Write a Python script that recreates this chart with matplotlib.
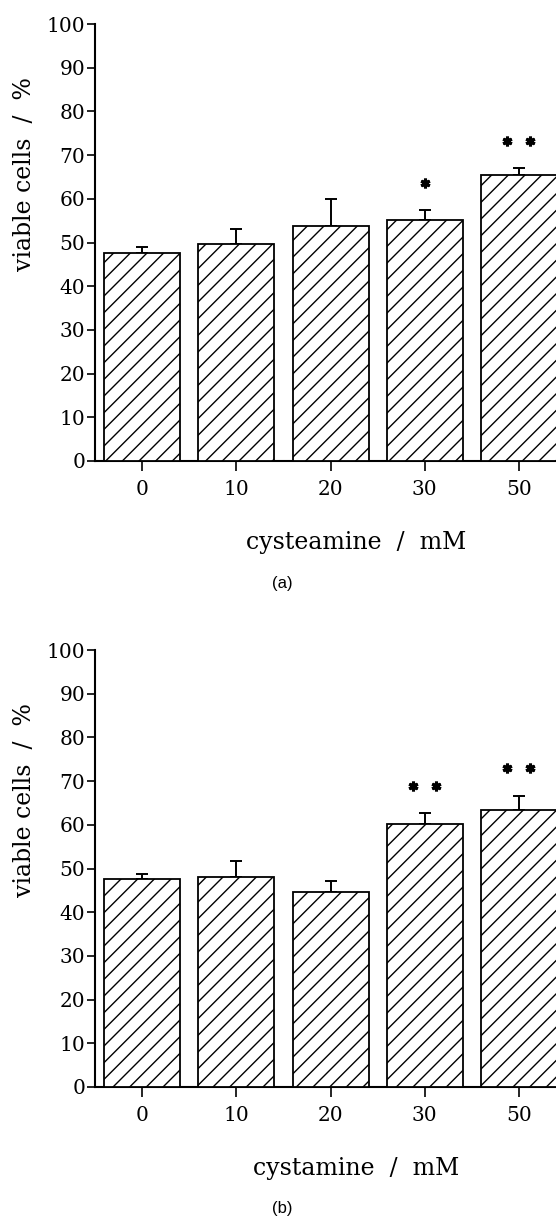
import matplotlib
matplotlib.use("Agg")
import matplotlib.pyplot as plt
import numpy as np

# ---- data ----
categories = ["0", "10", "20", "30", "50"]
viable_a = [47.5, 49.7, 53.7, 55.1, 65.4]
err_a = [1.4, 3.5, 6.2, 2.4, 1.6]
sig_a = ["", "", "", "*", "**"]
viable_b = [47.5, 48.0, 44.7, 60.1, 63.5]
err_b = [1.3, 3.7, 2.5, 2.5, 3.2]
sig_b = ["", "", "", "**", "**"]
yticks = [0, 10, 20, 30, 40, 50, 60, 70, 80, 90, 100]
xlabel_a = "cysteamine  /  mM"
xlabel_b = "cystamine  /  mM"
ylabel = "viable cells  /  %"
captions = ["(a)", "(b)"]

plt.rcParams["hatch.linewidth"] = 1.0
W, H = 556, 1216
fig = plt.figure(figsize=(W / 100, H / 100), dpi=100)
serif = "DejaVu Serif"


def panel(y0_px, vals, errs, sigs, xlabel, caption):
    left = 95.5
    ax = fig.add_axes([left / W, 1 - y0_px / H, 1 - left / W, 437 / H])
    x = np.arange(len(categories))
    ax.bar(x, vals, width=0.807, color="white", edgecolor="black",
           hatch="//", linewidth=1.3, zorder=3)
    ax.errorbar(x, vals, yerr=[np.zeros(len(vals)), errs], fmt="none",
                ecolor="black", elinewidth=1.4, capsize=4, capthick=1.4,
                zorder=2)
    for xi, v, e, s in zip(x, vals, errs, sigs):
        n = len(s)
        if n == 0:
            continue
        offs = [0.0] if n == 1 else [-0.122, 0.122]
        ax.plot([xi + o for o in offs], [v + e + 6.2] * n, linestyle="none",
                marker=(6, 2, 0), markersize=7, markeredgewidth=2.2,
                color="black", clip_on=False, zorder=4)
    ax.set_xlim(-0.496, 4.393)
    ax.set_ylim(0, 100)
    ax.set_yticks(yticks)
    ax.set_xticks(x)
    ax.set_xticklabels(categories)
    for sp in ["top", "right"]:
        ax.spines[sp].set_visible(False)
    for sp in ["left", "bottom"]:
        ax.spines[sp].set_linewidth(1.5)
    ax.tick_params(axis="y", length=6, width=1.2, pad=1.5, labelsize=14.5)
    ax.tick_params(axis="x", length=7, width=1.2, pad=7, labelsize=14.5)
    for lab in ax.get_xticklabels() + ax.get_yticklabels():
        lab.set_family(serif)
    fig.text(25 / W, 1 - (y0_px - 286.5) / H, ylabel, rotation=90,
             ha="center", va="center", fontsize=17, family=serif)
    fig.text(356 / W, 1 - (y0_px + 81) / H, xlabel, ha="center",
             va="center", fontsize=17, family=serif)
    fig.text(282 / W, 1 - (y0_px + 122) / H, caption, ha="center",
             va="center", fontsize=12, family="Liberation Sans")
    return ax


panel(461, viable_a, err_a, sig_a, xlabel_a, captions[0])
panel(1087, viable_b, err_b, sig_b, xlabel_b, captions[1])

fig.savefig("out.png", dpi=100)
